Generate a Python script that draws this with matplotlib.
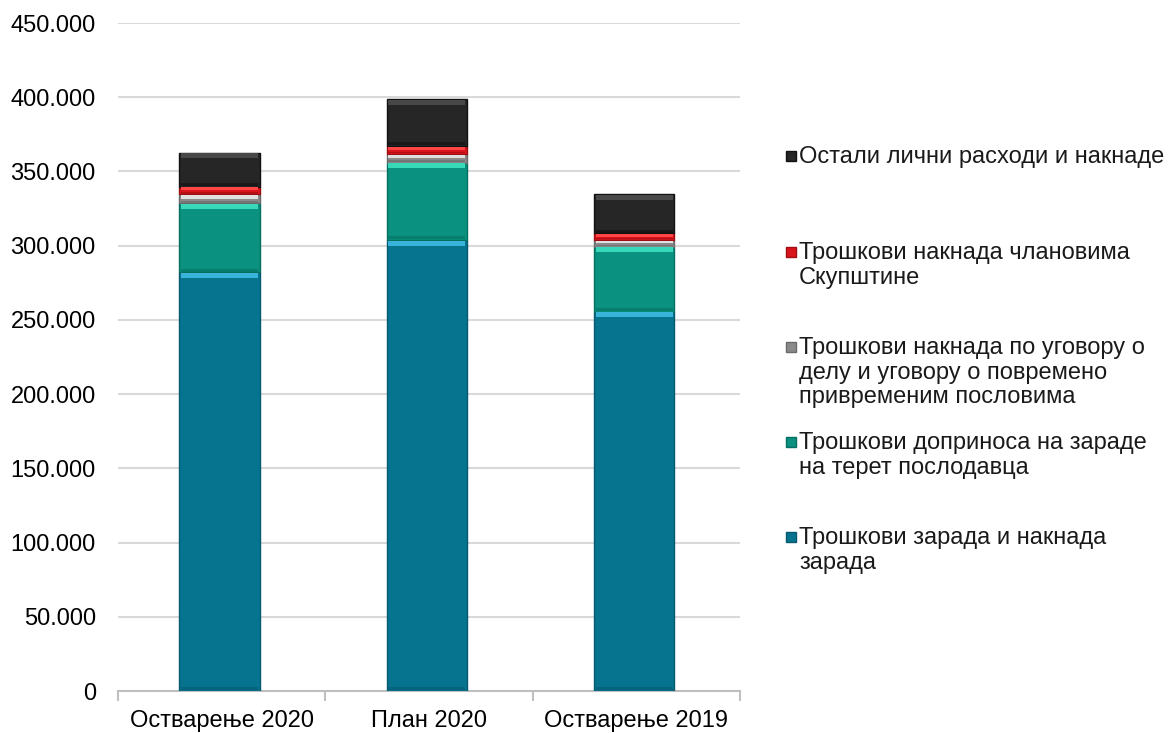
import numpy as np
import matplotlib
matplotlib.use('Agg')
import matplotlib.pyplot as plt
from matplotlib.patches import Rectangle
from matplotlib.ticker import FuncFormatter

plt.rcParams['font.family'] = ['Liberation Sans', 'DejaVu Sans']

# Data
categories = ['Остварење 2020', 'План 2020', 'Остварење 2019']
series_names = [
    'Трошкови зарада и накнада\nзарада',
    'Трошкови доприноса на зараде\nна терет послодавца',
    'Трошкови накнада по уговору о\nделу и уговору о повремено\nпривременим пословима',
    'Трошкови накнада члановима\nСкупштине',
    'Остали лични расходи и накнаде',
]
zarade = [282000, 303800, 255500]
doprinosi = [46500, 52100, 43800]
ugovori = [6100, 5800, 4500]
skupstina = [5100, 5400, 4500]
ostali = [22900, 31700, 26500]
values = [zarade, doprinosi, ugovori, skupstina, ostali]

# base colour, top highlight, edge
colors = ['#07748F', '#0A9180', '#8A8A8A', '#D9141C', '#262626']
highlights = ['#38B4DA', '#38D9B9', '#E0E0E0', '#FF4545', '#484848']
edges = ['#055A6F', '#067060', '#6A6A6A', '#A00E14', '#111111']

fig = plt.figure(figsize=(11.72, 7.33), dpi=100)
ax = fig.add_axes([118 / 1172, 1 - 691 / 733, (740 - 118) / 1172, (691 - 23) / 733])

x = np.arange(len(categories)) - 0.01
width = 0.387
px = 450000 / 668  # data units per pixel
bottom = np.zeros(len(categories))
for vals, c, h, e in zip(values, colors, highlights, edges):
    vals = np.array(vals, dtype=float)
    ax.bar(x, vals, width, bottom=bottom, color=c, edgecolor=e, linewidth=1.0, zorder=3)
    # bevel: light band at the top, darker band at the bottom of each segment
    hl = np.minimum(vals * 0.4, 5 * px)
    ax.bar(x, hl, width * 0.96, bottom=bottom + vals - hl - 0.6 * px, color=h, linewidth=0, zorder=4)
    sh = np.minimum(vals * 0.2, 3 * px)
    ax.bar(x, sh, width * 0.96, bottom=bottom + 0.6 * px, color=e, alpha=0.6, linewidth=0, zorder=4)
    bottom += vals

ax.set_ylim(0, 450000)
ax.set_xlim(-0.5, len(categories) - 0.5)
ax.set_yticks(np.arange(0, 450001, 50000))
ax.yaxis.set_major_formatter(FuncFormatter(lambda v, p: f'{int(v):,}'.replace(',', '.')))
ax.grid(axis='y', color='#D9D9D9', linewidth=1.5, zorder=0)
ax.set_axisbelow(True)

for s in ['top', 'right', 'left']:
    ax.spines[s].set_visible(False)
ax.spines['bottom'].set_color('#BFBFBF')
ax.spines['bottom'].set_linewidth(1.5)

ax.set_xticks(np.arange(len(categories)))
ax.set_xticklabels(categories)
ax.set_xticks(np.arange(-0.5, len(categories), 1.0), minor=True)
ax.tick_params(axis='x', which='major', length=0, pad=14, labelsize=17)
ax.tick_params(axis='x', which='minor', length=7, width=1.5, color='#BFBFBF')
ax.tick_params(axis='y', length=0, pad=16, labelsize=17)

# legend, drawn top to bottom in reverse series order (as in the source)
leg_y = [537, 442, 347, 252, 156]  # first-line centre, pixels from top
for name, c, e, yc in zip(series_names, colors, edges, leg_y):
    fig.patches.append(Rectangle((786 / 1172, 1 - (yc + 5) / 733), 10 / 1172, 10 / 733,
                                 transform=fig.transFigure, facecolor=c, edgecolor=e,
                                 linewidth=1.0))
    fig.text(799 / 1172, 1 - (yc - 10) / 733, name, fontsize=17, va='top', ha='left',
             linespacing=1.15, color='#1A1A1A')

fig.savefig('out.png', dpi=100)
